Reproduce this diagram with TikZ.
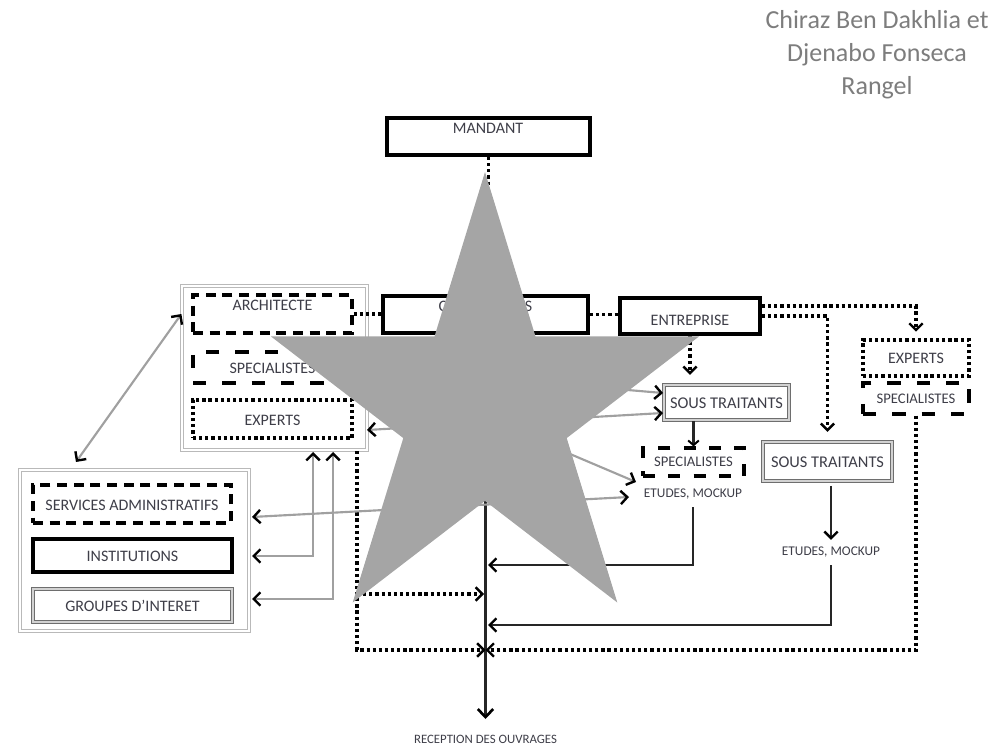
\documentclass[tikz,border=0pt]{standalone}
\usepackage{fontspec}
\setmainfont{Carlito}
\usetikzlibrary{arrows.meta,fit,calc}

\definecolor{ink}{RGB}{62,62,72}
\definecolor{starfill}{RGB}{165,165,165}
\definecolor{linkgray}{RGB}{160,160,160}
\definecolor{framegray}{RGB}{110,110,110}
\definecolor{authorgray}{RGB}{125,125,125}

\tikzset{
  chev/.tip={Straight Barb[length=5pt,width=10pt,line width=1.8pt,color=black]},
  bigchev/.tip={Straight Barb[length=6pt,width=11.5pt,line width=2pt,color=black]},
  smallchev/.tip={Straight Barb[length=3.5pt,width=8pt,line width=1.5pt,color=black]},
  thickbox/.style={draw=black, line width=3pt, inner sep=0pt},
  dashbox/.style={draw=black, line width=2.6pt, dash pattern=on 7.5pt off 5pt, inner sep=0pt},
  longdashbox/.style={draw=black, line width=2.4pt, dash pattern=on 10pt off 12pt, inner sep=0pt},
  dotbox/.style={draw=black, line width=2.5pt, dash pattern=on 2.4pt off 2.2pt, inner sep=0pt},
  framebox/.style={draw=framegray, double=gray!35, line width=1.2pt, double distance=0.9pt, inner sep=0pt},
  groupbox/.style={draw=gray!55, double=white, line width=0.9pt, double distance=1.3pt, inner sep=0pt},
  lbl/.style={font=\fontsize{12}{14}\selectfont, text=ink, inner sep=0pt},
  midlbl/.style={font=\fontsize{11}{13}\selectfont, text=ink, inner sep=0pt},
  smalllbl/.style={font=\fontsize{10}{12}\selectfont, text=ink, inner sep=0pt},
  dotline/.style={draw=black, line width=2.5pt, dash pattern=on 2.4pt off 2.2pt},
  solidline/.style={draw=black!85, line width=1.6pt},
  grayline/.style={draw=linkgray, line width=1.6pt},
}

\begin{document}
\begin{tikzpicture}[x=0.75pt,y=-0.75pt]
\useasboundingbox (0,0) rectangle (1007,748);

% ---------- authors ----------
\node[font=\fontsize{19.5}{24.75}\selectfont, text=authorgray, align=center, inner sep=0pt]
  (authors) at (877,55) {Chiraz Ben Dakhlia et\\Djenabo Fonseca\\Rangel};

% ---------- top row ----------
\node[thickbox, fit={(387,118) (590,155)}] (mandant) {};
\node[lbl] (mandantT) at (488,128) {MANDANT};

\node[thickbox, fit={(383,296) (588,333)}] (consult) {};
\node[lbl] (consultT) at (485.5,306) {CONSULTANTS};

\node[thickbox, fit={(620,298) (760,334)}] (entrep) {};
\node[lbl] (entrepT) at (690,320) {ENTREPRISE};

% ---------- architect group ----------
\node[groupbox, fit={(182,286) (367,450)}] (archgrp) {};
\node[dashbox, fit={(193,295) (352,333)}] (archi) {};
\node[lbl] (archiT) at (272.5,305) {ARCHITECTE};
\node[longdashbox, fit={(193,352) (352,383)}] (specL) {};
\node[lbl] (specLT) at (272.5,368) {SPECIALISTES};
\node[dotbox, fit={(193,400) (352,438)}] (expL) {};
\node[lbl] (expLT) at (272.5,420) {EXPERTS};

% ---------- public group ----------
\node[groupbox, fit={(20,470) (249,631)}] (pubgrp) {};
\node[dashbox, fit={(33,485) (231,523)}] (serv) {};
\node[lbl] (servT) at (132,505) {SERVICES ADMINISTRATIFS};
\node[thickbox, fit={(33,539) (232,572)}] (inst) {};
\node[lbl] (instT) at (132.5,556) {INSTITUTIONS};
\node[framebox, fit={(33,589) (232,622)}] (grp) {};
\node[lbl] (grpT) at (132.5,606) {GROUPES D’INTERET};

% ---------- contractor side ----------
\node[framebox, fit={(664,385) (789,420)}] (sousM) {};
\node[lbl, font=\fontsize{12.3}{14}\selectfont] (sousMT) at (726.5,403) {SOUS TRAITANTS};
\node[longdashbox, line width=2.3pt, dash pattern=on 9pt off 10pt, fit={(643,448) (744,476)}] (specM) {};
\node[midlbl] (specMT) at (693.5,462) {SPECIALISTES};
\node[smalllbl] (etudesM) at (693,494) {ETUDES, MOCKUP};

\node[framebox, fit={(763,442) (892,481)}] (sousR) {};
\node[lbl, font=\fontsize{12.3}{14}\selectfont] (sousRT) at (827.5,462) {SOUS TRAITANTS};
\node[smalllbl] (etudesR) at (831,552) {ETUDES, MOCKUP};

\node[dotbox, fit={(863,340) (969,376)}] (expR) {};
\node[lbl] (expRT) at (916,358) {EXPERTS};
\node[longdashbox, fit={(863,383) (969,414)}] (specR) {};
\node[midlbl] (specRT) at (916,398.5) {SPECIALISTES};

\node[font=\fontsize{9.6}{11}\selectfont, text=ink, inner sep=0pt] (recep) at (485.5,739) {RECEPTION DES OUVRAGES};

% ---------- free ends ----------
\coordinate (recTip) at (485.5,719);
\coordinate (spA) at (488,565);
\coordinate (spB) at (488,625);
\coordinate (spC) at (484,594);
\coordinate (spX) at (485.5,650);
\coordinate (dotTop) at (357,451);
\coordinate (dotMid) at (357,594);
\coordinate (pubTop) at (76,462);
\coordinate (servTip) at (252,517);
\coordinate (etudTip) at (629,497);
\coordinate (instTip) at (252,556);
\coordinate (instUp) at (313,452);
\coordinate (grpTip) at (252,599);
\coordinate (grpUp) at (333,452);
\coordinate (expTip) at (367,430);
\coordinate (sousLow) at (663,413);
\coordinate (sousHigh) at (663,393);
\coordinate (specTip) at (636,482);

% ---------- main line ----------
\draw[dotline] (mandant.south) -- (mandant.south |- consult.north);
\draw[solidline, line width=2pt, -{bigchev}] (consult.south) -- (recTip);

% ---------- dotted links ----------
\draw[dotline] (archi.east) -- (archi.east -| consult.west);
\draw[dotline] (consult.east) -- (consult.east -| entrep.west);
\draw[dotline, -{chev}, shorten >=7pt] (entrep.south) -- (entrep.south |- sousM.north);
\draw[dotline, -{chev}, shorten >=5pt] ([yshift=7.5pt]entrep.east) -| (expR.north);
\draw[dotline, -{chev}, shorten >=7pt] (entrep.east) -| (sousR.north);
\draw[dotline, -{chev}] (specR.south) |- (spX);
\draw[dotline, -{chev}] (dotTop) |- (spX);
\draw[dotline, -{chev}] (dotMid) -- (spC);

% ---------- solid links ----------
\draw[solidline, -{smallchev}] (specM.north |- sousM.south) -- (specM.north);
\draw[solidline, -{chev}, shorten <=6pt] (etudesM.south) |- (spA);
\draw[solidline, -{chev}, shorten <=3pt, shorten >=5pt] (etudesR.north |- sousR.south) -- (etudesR.north);
\draw[solidline, -{chev}, shorten <=6pt] (etudesR.south) |- (spB);

% ---------- grey exchanges ----------
\draw[grayline, {chev}-{chev}] (pubTop) -- (archgrp.west |- archi.east);
\draw[grayline, {chev}-{chev}] (servTip) -- (etudTip);
\draw[grayline, {chev}-{chev}] (instTip) -| (instUp);
\draw[grayline, {chev}-{chev}] (grpTip) -| (grpUp);
\draw[grayline, {chev}-{chev}] (expTip) -- (sousLow);
\draw[grayline, -{chev}] (archgrp.east) -- (sousHigh);
\draw[grayline, -{chev}] (archgrp.east) -- (specTip);

% ---------- star ----------
\fill[starfill] (485,172) -- (535.5,336.5) -- (699,336.5) -- (566.7,438.1)
  -- (617.3,602.5) -- (485,500.9) -- (352.7,602.5) -- (403.3,438.1)
  -- (271,336.5) -- (434.5,336.5) -- cycle;
\end{tikzpicture}
\end{document}
